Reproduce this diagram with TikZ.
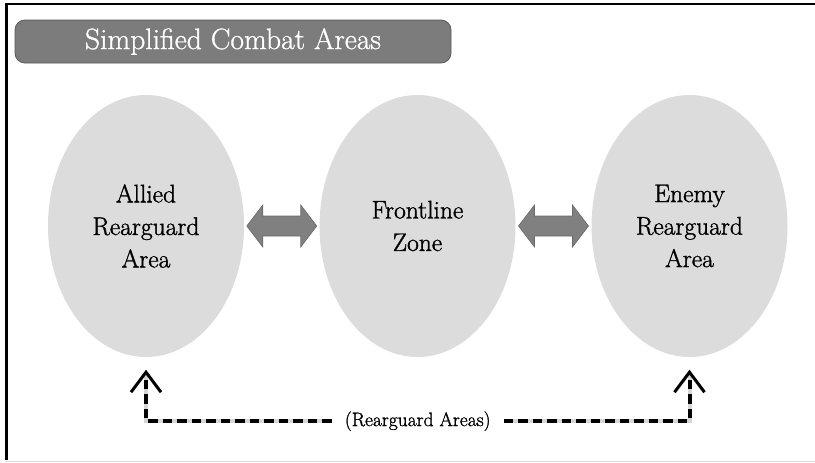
\documentclass[tikz,border=0pt]{standalone}
\usepackage{fontspec}
\usetikzlibrary{shapes.geometric,calc}
\newfontfamily\heavyserif{Latin Modern Roman}[FakeBold=1.3]
\newfontfamily\headserif{Latin Modern Roman}[FakeBold=1.0]
\definecolor{zonefill}{HTML}{DCDCDC}
\definecolor{arrowfill}{HTML}{808080}
\definecolor{arrowline}{HTML}{6A6A6A}
\definecolor{titlefill}{HTML}{7C7C7C}
\definecolor{titleline}{HTML}{595959}
\definecolor{dashgap}{HTML}{D6D6D6}
\begin{document}
\begin{tikzpicture}[x=1pt,y=-1pt,
  zone/.style={ellipse,fill=zonefill,draw=none,minimum width=196pt,minimum height=262pt,
    inner sep=0pt,align=center,text=black,font=\heavyserif\fontsize{25.5}{32.5}\selectfont},
  titlebox/.style={rounded corners=10pt,fill=titlefill,draw=titleline,line width=0.8pt,
    minimum width=436pt,minimum height=43pt,text=white,font=\headserif\fontsize{29.5}{32}\selectfont},
  areatag/.style={inner xsep=13pt,inner ysep=2pt,font=\heavyserif\fontsize{19.5}{22}\selectfont},
  arrowbody/.style={fill=arrowfill,draw=arrowline,line width=0.6pt,line join=miter},
  linkbase/.style={draw=dashgap,line width=4pt},
  linkdash/.style={draw=black,line width=4pt,dash pattern=on 9.5pt off 5pt},
  chevron/.style={draw=black,line width=3pt,line join=miter},
  dblarrow/.pic={\draw[arrowbody] (-35,0) -- (-19,-21) -- (-19,-10) -- (19,-10) -- (19,-21)
    -- (35,0) -- (19,21) -- (19,10) -- (-19,10) -- (-19,21) -- cycle;}]
\useasboundingbox (0,0) rectangle (815,463);

% page frame
\draw[black,line width=2pt] (5,4) -- (815,4);
\draw[black,line width=3pt] (6.5,3) -- (6.5,460);
\draw[black!15,line width=1.5pt] (5,461.5) -- (815,461.5);

% heading
\node[titlebox] (title) at (233,41.5) {Simplified Combat Areas};

% the three areas
\node[zone] (allied) at (146,226) {Allied\\Rearguard\\Area};
\node[zone] (front) at (417.5,226) {Frontline\\Zone};
\node[zone] (enemy) at (689.5,226) {Enemy\\Rearguard\\Area};

% two-way links between neighbouring areas
\path ($(allied.east)!0.5!(front.west)$) pic {dblarrow};
\path ($(front.east)!0.5!(enemy.west)$) pic {dblarrow};

% rear areas grouped by a dashed bracket
\node[areatag] (rg) at ($(allied.south)!0.5!(enemy.south)+(0,64)$) {(Rearguard Areas)};
\coordinate (tipL) at ([yshift=-15pt]allied.south);
\coordinate (tipR) at ([yshift=-15pt]enemy.south);
\coordinate (endL) at ([yshift=-2pt]tipL);
\coordinate (endR) at ([yshift=-2pt]tipR);
\draw[linkbase] (rg.west) -| (endL);
\draw[linkbase] (rg.east) -| (endR);
\draw[linkdash] (rg.west) -| (endL);
\draw[linkdash] (rg.east) -| (endR);
\draw[chevron] ([xshift=-15pt,yshift=-20pt]tipL) -- (tipL) -- ([xshift=15pt,yshift=-20pt]tipL);
\draw[chevron] ([xshift=-15pt,yshift=-20pt]tipR) -- (tipR) -- ([xshift=15pt,yshift=-20pt]tipR);
\end{tikzpicture}
\end{document}
